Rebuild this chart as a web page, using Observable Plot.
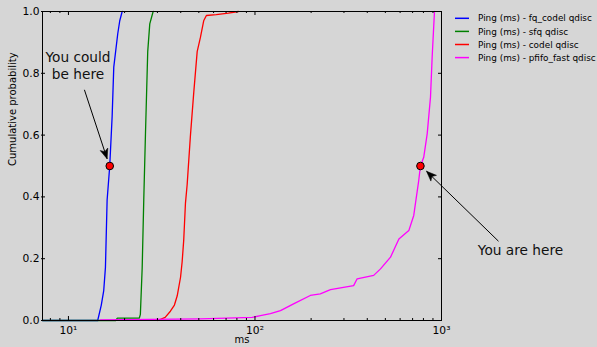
<!DOCTYPE html>
<html>
<head>
<meta charset="utf-8">
<script src="https://cdn.jsdelivr.net/npm/d3@7"></script>
<script src="https://cdn.jsdelivr.net/npm/@observablehq/plot@0.6"></script>
<style>
  html, body { margin: 0; padding: 0; background: #d6d6d6; }
  #chart { width: 597px; height: 347px; }
</style>
</head>
<body>
<div id="chart"></div>
<script>
// ---- Data ----
const seriesNames = [
  "Ping (ms) - fq_codel qdisc",
  "Ping (ms) - sfq qdisc",
  "Ping (ms) - codel qdisc",
  "Ping (ms) - pfifo_fast qdisc"
];
const seriesColors = ["#0000ff", "#008000", "#ff0000", "#ff00ff"];

const fqCodelMs   = [7.26, 14.35, 15.0, 15.46, 15.79, 16.12, 16.65, 17.15, 17.5, 18.38, 18.84, 19.41];
const fqCodelProb = [0, 0, 0.05, 0.097, 0.172, 0.39, 0.5, 0.66, 0.82, 0.928, 0.97, 1.0];

const sfqMs   = [7.26, 17.9, 18.3, 24.0, 24.3, 24.85, 25.34, 25.87, 26.61, 27.29, 28.45];
const sfqProb = [0, 0, 0.008, 0.008, 0.02, 0.17, 0.39, 0.6, 0.87, 0.96, 1.0];

const codelMs   = [30.1, 33, 35.2, 37, 38.3, 39.9, 40.7, 41.5, 42.4, 43.3, 45.1, 47, 49, 51, 53.1, 54.9, 62, 72, 81.5];
const codelProb = [0, 0.01, 0.03, 0.05, 0.08, 0.14, 0.19, 0.26, 0.38, 0.44, 0.6, 0.74, 0.87, 0.916, 0.97, 0.987, 0.99, 0.995, 1.0];

const pfifoMs   = [14.85, 51, 96.6, 107, 121, 137, 161, 198, 224, 254, 338, 353, 433, 471, 533, 591, 668, 710, 755, 771, 803, 838, 873, 891, 917];
const pfifoProb = [0.002, 0.005, 0.01, 0.016, 0.022, 0.032, 0.054, 0.081, 0.086, 0.10, 0.113, 0.135, 0.146, 0.167, 0.205, 0.264, 0.291, 0.34, 0.453, 0.5, 0.528, 0.604, 0.723, 0.852, 1.0];

const seriesMs   = [fqCodelMs, sfqMs, codelMs, pfifoMs];
const seriesProb = [fqCodelProb, sfqProb, codelProb, pfifoProb];

const yTicks = [0, 0.2, 0.4, 0.6, 0.8, 1.0];
const xMajorTicks = [10, 100, 1000];
const xMinorTicks = [8, 9, 20, 30, 40, 50, 60, 70, 80, 90, 200, 300, 400, 500, 600, 700, 800, 900];
const xTickLabels = ["10\u00b9", "10\u00b2", "10\u00b3"];

// highlighted points
const dotMs = [16.65, 771];
const dotProb = [0.5, 0.5];

// annotations
const annoText = ["You could\nbe here", "You are here"];
const annoMs = [11.25, 2652];
const annoProb = [0.827, 0.23];
const arrowFromMs = [12.18, 2021];
const arrowFromProb = [0.7466, 0.2566];
const arrowToMs = [16.12, 831];
const arrowToProb = [0.5233, 0.483];

// ---- Build ----
const svgNS = "http://www.w3.org/2000/svg";
function filledArrow(color) {
  const m = document.createElementNS(svgNS, "marker");
  m.setAttribute("viewBox", "-11 -5 12 10");
  m.setAttribute("markerWidth", "12");
  m.setAttribute("markerHeight", "10");
  m.setAttribute("markerUnits", "userSpaceOnUse");
  m.setAttribute("orient", "auto");
  m.setAttribute("refX", "0");
  m.setAttribute("refY", "0");
  const p = document.createElementNS(svgNS, "path");
  p.setAttribute("d", "M0,0L-10,-4L-7.5,0L-10,4Z");
  p.setAttribute("fill", "black");
  p.setAttribute("stroke", "black");
  p.setAttribute("stroke-width", "0.5");
  m.appendChild(p);
  return m;
}

const W = 597, H = 347, mL = 42, mR = 156, mT = 11, mB = 27;
const fw = W - mL - mR, fh = H - mT - mB;

const lineMarks = seriesMs.map((xs, i) =>
  Plot.line(xs.map((x, j) => ({x, y: seriesProb[i][j]})), {
    x: "x", y: "y", stroke: seriesColors[i], strokeWidth: 1.3
  })
);

const arrowIdx = annoText.map((_, i) => i);

const plot = Plot.plot({
  width: W, height: H,
  marginLeft: mL, marginRight: mR, marginTop: mT, marginBottom: mB,
  style: {background: "#d6d6d6", fontFamily: "DejaVu Sans", fontSize: "10.7px", color: "black", overflow: "visible"},
  x: {type: "log", domain: [7.26, 1000]},
  y: {domain: [0, 1]},
  marks: [
    ...lineMarks,
    Plot.frame({stroke: "black", strokeWidth: 1}),
    // inward ticks
    Plot.tickY(yTicks, {y: d => d, insetLeft: -1, insetRight: fw - 3, stroke: "black"}),
    Plot.tickY(yTicks, {y: d => d, insetLeft: fw - 3, insetRight: -1, stroke: "black"}),
    Plot.tickX(xMajorTicks, {x: d => d, insetTop: fh - 4, stroke: "black"}),
    Plot.tickX(xMajorTicks, {x: d => d, insetBottom: fh - 4, stroke: "black"}),
    Plot.tickX(xMinorTicks, {x: d => d, insetTop: fh - 2, stroke: "black"}),
    Plot.tickX(xMinorTicks, {x: d => d, insetBottom: fh - 2, stroke: "black"}),
    Plot.axisY({ticks: yTicks, tickFormat: d3.format(".1f"), tickSize: 0, tickPadding: 3, label: null, fontSize: 10.7}),
    Plot.axisX({ticks: xMajorTicks, tickFormat: (d) => xTickLabels[xMajorTicks.indexOf(d)], tickSize: 0, tickPadding: 6, label: null, fontSize: 10.7}),
    Plot.text(["Cumulative probability"], {frameAnchor: "left", rotate: -90, dx: -29.5, fontSize: 10, fill: "black"}),
    Plot.text(["ms"], {frameAnchor: "bottom", dy: 22, fontSize: 10, fill: "black"}),
    // annotations
    Plot.link(arrowIdx, {
      x1: arrowFromMs, y1: arrowFromProb, x2: arrowToMs, y2: arrowToProb,
      stroke: "black", strokeWidth: 1, markerEnd: filledArrow
    }),
    Plot.text(annoText, {x: annoMs, y: annoProb, text: annoText, fontSize: 13.7, lineHeight: 1.27, fill: "#111"}),
    Plot.dot(dotMs, {x: dotMs, y: dotProb, r: 3.8, fill: "#ff0000", stroke: "black", strokeWidth: 1})
  ]
});

// legend inside the right margin of the svg
const svg = d3.select(plot);
const lg = svg.append("g").attr("font-family", "DejaVu Sans").attr("font-size", "8.9px").attr("text-anchor", "start");
seriesNames.forEach((name, i) => {
  const yy = 18.3 + 13.1 * i;
  lg.append("line").attr("x1", 455).attr("x2", 469).attr("y1", yy).attr("y2", yy)
    .attr("stroke", seriesColors[i]).attr("stroke-width", 1.5);
  lg.append("text").attr("x", 478).attr("y", yy).attr("dy", "0.35em")
    .attr("text-anchor", "start").attr("fill", "black").text(name);
});

document.getElementById("chart").appendChild(plot);
</script>
</body>
</html>
